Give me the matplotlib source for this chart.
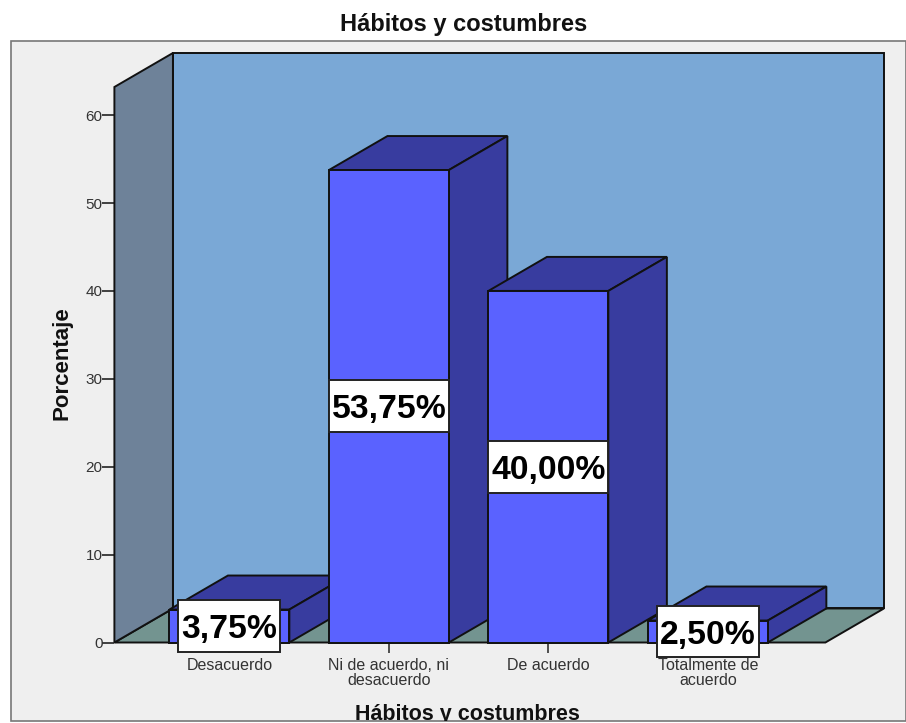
import matplotlib
matplotlib.use('Agg')
import matplotlib.pyplot as plt
from matplotlib.patches import Polygon, Rectangle

categories = ['Desacuerdo', 'Ni de acuerdo, ni\ndesacuerdo', 'De acuerdo', 'Totalmente de\nacuerdo']
values = [3.75, 53.75, 40.00, 2.50]
value_labels = ['3,75%', '53,75%', '40,00%', '2,50%']
y_ticks = [0, 10, 20, 30, 40, 50, 60]

W, H = 906, 723
BAR_W = 0.752
DX = 0.367    # 3D depth in category units
DY = 3.87     # 3D depth in percent units
XMIN, XMAX = -0.721, 3.737
YMAX = 63.2
BOX_H = 5.9   # label box height in percent units

FRONT = '#5A62FF'
SIDE = '#383C9F'
WALL = '#7AA8D6'
LEFT_WALL = '#6E8299'
FLOOR = '#739490'
PANEL = '#EFEFEF'
EDGE = '#111111'

plt.rcParams['font.family'] = ['Liberation Sans', 'DejaVu Sans']

fig = plt.figure(figsize=(W / 100, H / 100), dpi=100, facecolor='white')
panel = Rectangle((11 / W, 1 - 721 / H), 895 / W, 680 / H, transform=fig.transFigure,
                  facecolor=PANEL, edgecolor='#777777', linewidth=1.2)
fig.add_artist(panel)
panel.set_zorder(-1)

ax = fig.add_axes([114.4 / W, 1 - 642.5 / H, 711 / W, 555.5 / H])
ax.set_xlim(XMIN, XMAX)
ax.set_ylim(0, YMAX)
ax.patch.set_visible(False)
for s in ax.spines.values():
    s.set_visible(False)


def poly(points, color, z):
    ax.add_patch(Polygon(points, closed=True, facecolor=color, edgecolor=EDGE,
                         linewidth=1.4, joinstyle='miter', clip_on=False, zorder=z))


# walls and floor
poly([(XMIN, 0), (XMIN + DX, DY), (XMAX + DX, DY), (XMAX, 0)], FLOOR, 2)
poly([(XMIN + DX, DY), (XMIN + DX, YMAX + DY), (XMAX + DX, YMAX + DY), (XMAX + DX, DY)], WALL, 2)
poly([(XMIN, 0), (XMIN, YMAX), (XMIN + DX, YMAX + DY), (XMIN + DX, DY)], LEFT_WALL, 2)

# bars
for i, v in enumerate(values):
    l, r = i - BAR_W / 2, i + BAR_W / 2
    z = 3 + i * 0.1
    poly([(l, v), (l + DX, v + DY), (r + DX, v + DY), (r, v)], SIDE, z)
    poly([(r, 0), (r + DX, DY), (r + DX, v + DY), (r, v)], SIDE, z)
    ax.bar(i, v, width=BAR_W, color=FRONT, edgecolor=EDGE, linewidth=1.4, zorder=z, clip_on=False)

# value labels, box width follows the label length
for i, v in enumerate(values):
    box_w = 0.752 if len(value_labels[i]) == 6 else 0.64
    ax.add_patch(Rectangle((i - box_w / 2, v / 2 - BOX_H / 2), box_w, BOX_H, facecolor='white',
                           edgecolor='#222222', linewidth=1.4, clip_on=False, zorder=9))
    ax.text(i, v / 2, value_labels[i], ha='center', va='center_baseline', fontsize=24.3,
            fontweight='bold', color='black', zorder=10, clip_on=False)

ax.set_yticks(y_ticks)
ax.set_xticks(range(len(categories)))
ax.set_xticklabels(categories, fontsize=11.5, color='#333333', linespacing=0.95)
ax.tick_params(axis='y', length=8.6, width=1.2, labelsize=11, labelcolor='#333333', pad=0, color='#222222')
ax.tick_params(axis='x', length=7, width=1.2, pad=4.5, color='#333333')

ax.set_ylabel('Porcentaje', fontsize=16, fontweight='bold', color='#111111', va='center')
ax.yaxis.set_label_coords((62 - 114) / 711, (642.5 - 363) / 555.5)
ax.set_xlabel('Hábitos y costumbres', fontsize=15.5, fontweight='bold', color='#111111', va='center')
ax.xaxis.set_label_coords((467.5 - 114) / 711, -(714.5 - 642.5) / 555.5)
ax.xaxis.label.set_clip_path(panel)
ax.xaxis.label.set_clip_on(True)

fig.text(464 / W, 1 - 24.5 / H, 'Hábitos y costumbres', ha='center', va='center',
         fontsize=17, fontweight='bold', color='#111111')

fig.savefig('out.png', dpi=100)
